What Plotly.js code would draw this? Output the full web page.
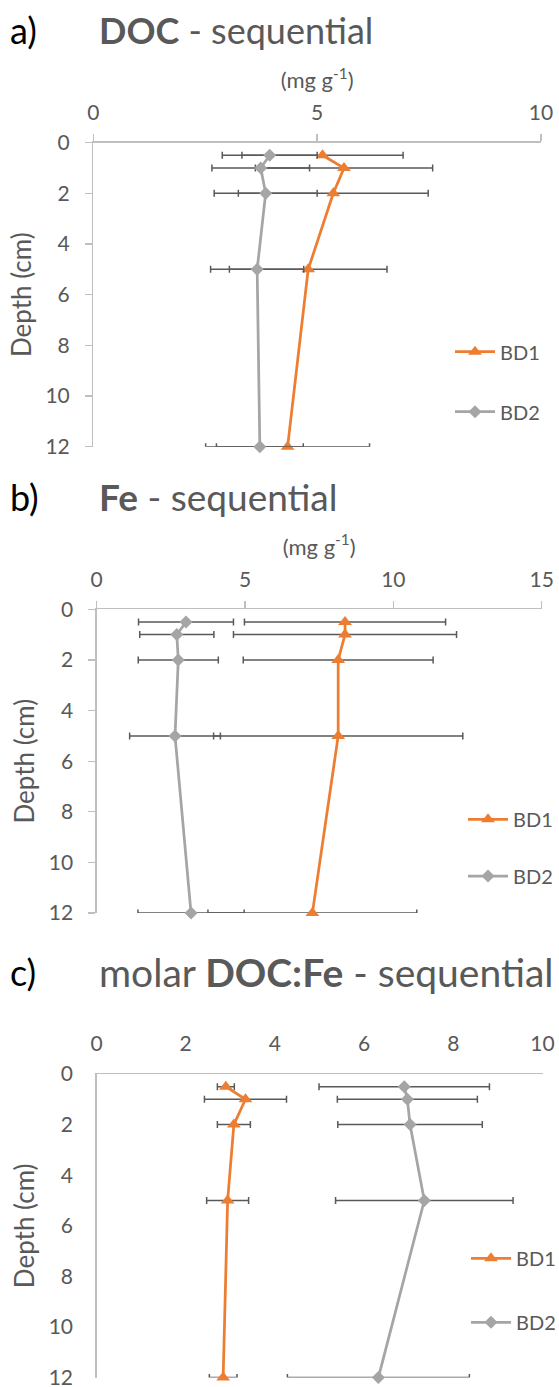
<!DOCTYPE html>
<html>
<head>
<meta charset="utf-8">
<script src="https://cdn.plot.ly/plotly-3.0.1.min.js"></script>
<style>
html,body{margin:0;padding:0;background:#fff;}
#chart{width:559px;height:1387px;}
</style>
</head>
<body>
<div id="chart"></div>
<script>
// ---- data ----
var depth = [0.5, 1, 2, 5, 12];
var seriesNames = ["BD1", "BD2"];

var docBD1 = [5.12, 5.60, 5.36, 4.80, 4.34];
var docBD1Err = [1.80, 1.98, 2.12, 1.76, 1.83];
var docBD2 = [3.94, 3.74, 3.85, 3.66, 3.72];
var docBD2Err = [1.06, 1.09, 1.15, 1.04, 0.97];

var feBD1 = [8.37, 8.37, 8.14, 8.14, 7.27];
var feBD1Err = [3.39, 3.76, 3.20, 4.20, 3.52];
var feBD2 = [3.01, 2.70, 2.75, 2.64, 3.18];
var feBD2Err = [1.60, 1.25, 1.35, 1.53, 1.79];

var ratioBD1 = [2.90, 3.34, 3.08, 2.94, 2.84];
var ratioBD1Err = [0.19, 0.92, 0.37, 0.47, 0.31];
var ratioBD2 = [6.90, 6.97, 7.03, 7.35, 6.32];
var ratioBD2Err = [1.91, 1.57, 1.62, 1.99, 2.04];

var depthTicks = [0, 2, 4, 6, 8, 10, 12];
var panelTitles = ["<b>DOC</b> - sequential", "<b>Fe</b> - sequential", "molar <b>DOC:Fe</b> - sequential"];
var panelLetters = ["a)", "b)", "c)"];
var unitTitle = "(mg g<sup>-1</sup>)";
var depthTitle = "Depth (cm)";

// ---- styling ----
var W = 559, H = 1387;
var ORANGE = "#ED7D31", GRAY = "#A5A5A5", TXT = "#595959", AX = "#BFBFBF", ERR = "#595959";
var FONT = "Lato, 'Open Sans', sans-serif";

function px(x){ return x / W; }
function py(y){ return 1 - y / H; }

function mkTrace(x, err, name, color, symbol, size, xa, ya, leg){
  return {
    type: "scatter", mode: "lines+markers",
    x: x, y: depth, name: name,
    xaxis: xa, yaxis: ya, legend: leg, showlegend: true,
    cliponaxis: false,
    line: {color: color, width: 2.75},
    marker: {color: color, symbol: symbol, size: size},
    error_x: {type: "data", array: err, visible: true, color: ERR, thickness: 1.5, width: 3.5},
    hoverinfo: "skip"
  };
}

var data = [
  mkTrace(docBD1, docBD1Err, seriesNames[0], ORANGE, "triangle-up", 12, "x", "y", "legend"),
  mkTrace(docBD2, docBD2Err, seriesNames[1], GRAY, "diamond", 10, "x", "y", "legend2"),
  mkTrace(feBD1, feBD1Err, seriesNames[0], ORANGE, "triangle-up", 12, "x2", "y2", "legend3"),
  mkTrace(feBD2, feBD2Err, seriesNames[1], GRAY, "diamond", 10, "x2", "y2", "legend4"),
  mkTrace(ratioBD1, ratioBD1Err, seriesNames[0], ORANGE, "triangle-up", 12, "x3", "y3", "legend5"),
  mkTrace(ratioBD2, ratioBD2Err, seriesNames[1], GRAY, "diamond", 10, "x3", "y3", "legend6")
];

function xAxis(dom, anchor, range, dtick, showTicks, title){
  var a = {
    domain: dom, anchor: anchor, side: "top", range: range, dtick: dtick, tick0: 0,
    showgrid: false, zeroline: false, showline: true, linecolor: AX, linewidth: 1.3,
    ticks: "outside", ticklen: 7, tickwidth: 1.3, tickcolor: showTicks ? AX : "rgba(0,0,0,0)",
    ticklabelstandoff: 6, ticklabeloverflow: "allow", automargin: false,
    tickfont: {family: FONT, size: 21, color: TXT}, fixedrange: true
  };
  if (title) a.title = {text: title, font: {family: FONT, size: 22, color: TXT}, standoff: 4};
  return a;
}
function yAxis(dom, anchor, showTicks){
  return {
    domain: dom, anchor: anchor, range: [12, 0], tickmode: "array", tickvals: depthTicks,
    showgrid: false, zeroline: false, showline: true, linecolor: AX, linewidth: 1.3,
    ticks: "outside", ticklen: 7, tickwidth: 1.3, tickcolor: showTicks ? AX : "rgba(0,0,0,0)",
    ticklabelstandoff: 11, ticklabeloverflow: "allow", automargin: false,
    tickfont: {family: FONT, size: 21, color: TXT}, fixedrange: true,
    title: {text: depthTitle, font: {family: FONT, size: 26, color: TXT}, standoff: 6}
  };
}

function leg(xp, yp){
  return {x: px(xp), y: py(yp), xanchor: "left", yanchor: "middle", xref: "container", yref: "container",
          bgcolor: "rgba(0,0,0,0)", borderwidth: 0, itemwidth: 40,
          font: {family: FONT, size: 20, color: TXT}};
}

var layout = {
  width: W, height: H,
  margin: {l: 0, r: 0, t: 0, b: 0, autoexpand: false},
  showlegend: true,
  paper_bgcolor: "#fff", plot_bgcolor: "rgba(0,0,0,0)",
  font: {family: FONT, color: TXT},
  xaxis:  xAxis([px(93.3), px(541)], "y", [0, 10], 5, true, unitTitle),
  yaxis:  yAxis([py(446.8), py(142.6)], "x", true),
  xaxis2: xAxis([px(96.7), px(541.7)], "y2", [0, 15], 5, true, unitTitle),
  yaxis2: yAxis([py(913.1), py(609.3)], "x2", true),
  xaxis3: xAxis([px(96.5), px(542.5)], "y3", [0, 10], 2, false, null),
  yaxis3: yAxis([py(1377.6), py(1074)], "x3", false),
  legend:  leg(450, 351.7),
  legend2: leg(450, 411.7),
  legend3: leg(463, 819.3),
  legend4: leg(463, 876),
  legend5: leg(466, 1258.3),
  legend6: leg(466, 1322.3),
  annotations: []
};

var titleY = [30, 497, 972];
var titleSize = [36, 37, 39];
for (var i = 0; i < 3; i++) {
  layout.annotations.push({
    text: panelLetters[i], xref: "paper", yref: "paper", x: px(8), y: py(titleY[i]),
    xanchor: "left", yanchor: "middle", showarrow: false,
    font: {family: FONT, size: 36, color: "#000"}
  });
  layout.annotations.push({
    text: panelTitles[i], xref: "paper", yref: "paper", x: px(97), y: py(titleY[i]),
    xanchor: "left", yanchor: "middle", showarrow: false,
    font: {family: FONT, size: titleSize[i], color: TXT}
  });
}

Plotly.newPlot("chart", data, layout, {staticPlot: true, displayModeBar: false});
</script>
</body>
</html>
